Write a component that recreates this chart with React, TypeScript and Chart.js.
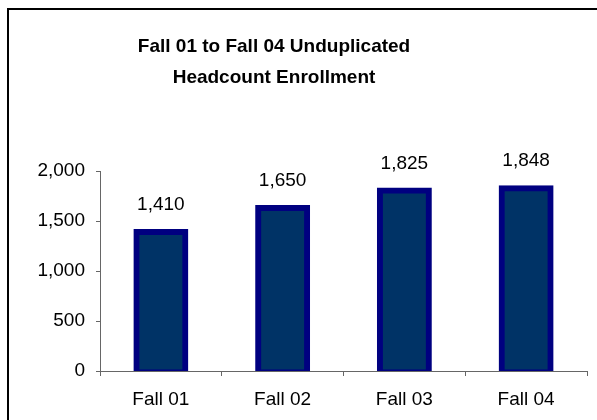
import React, { useEffect, useRef } from "react";
import { Chart, registerables } from "chart.js";

Chart.register(...registerables);

const categories = ["Fall 01", "Fall 02", "Fall 03", "Fall 04"];
const headcount = [1410, 1650, 1825, 1848];
const titleLines = ["Fall 01 to Fall 04 Unduplicated", "Headcount Enrollment"];
const yTicks = [0, 500, 1000, 1500, 2000];

const FONT = "'Liberation Sans', Arial, sans-serif";

const framePlugin = {
  id: "frame",
  beforeDraw(chart: any) {
    const { ctx } = chart;
    ctx.save();
    ctx.fillStyle = "#ffffff";
    ctx.fillRect(0, 0, chart.width, chart.height);
    ctx.strokeStyle = "#000000";
    ctx.lineWidth = 2;
    ctx.beginPath();
    ctx.moveTo(8, 440);
    ctx.lineTo(8, 9);
    ctx.lineTo(620, 9);
    ctx.stroke();
    ctx.fillStyle = "#000000";
    ctx.font = `bold 19px ${FONT}`;
    ctx.textAlign = "center";
    ctx.textBaseline = "middle";
    ctx.fillText(titleLines[0], 274, 47);
    ctx.fillText(titleLines[1], 274, 78);
    ctx.restore();
  },
};

const labelPlugin = {
  id: "barLabels",
  afterDatasetsDraw(chart: any) {
    const { ctx } = chart;
    const meta = chart.getDatasetMeta(0);
    ctx.save();
    ctx.fillStyle = "#000000";
    ctx.font = `19px ${FONT}`;
    ctx.textAlign = "center";
    ctx.textBaseline = "middle";
    meta.data.forEach((bar: any, i: number) => {
      ctx.fillText(headcount[i].toLocaleString("en-US"), bar.x, bar.y - 25);
    });
    ctx.restore();
  },
};

export default function App() {
  const ref = useRef<HTMLCanvasElement>(null);
  useEffect(() => {
    if (!ref.current) return;
    const chart = new Chart(ref.current, {
      type: "bar",
      data: {
        labels: categories,
        datasets: [
          {
            data: headcount,
            backgroundColor: "#003366",
            borderColor: "#000080",
            borderWidth: { top: 6, left: 6, right: 6, bottom: 2 },
            borderRadius: 0,
            borderSkipped: false,
            inflateAmount: 1,
            barPercentage: 0.435,
            categoryPercentage: 1,
          },
        ],
      },
      options: {
        animation: false,
        responsive: false,
        devicePixelRatio: 1,
        layout: { padding: { left: 0, right: 10, top: 171, bottom: 0 } },
        plugins: { legend: { display: false }, title: { display: false }, tooltip: { enabled: false } },
        scales: {
          x: {
            grid: { display: true, drawOnChartArea: false, drawTicks: true, tickLength: 5, color: "#666666" },
            border: { display: true, color: "#666666", width: 1 },
            ticks: { color: "#000000", font: { family: FONT, size: 19 }, padding: 12 },
            afterFit(scale: any) {
              scale.height = 49;
            },
          },
          y: {
            min: 0,
            max: 2000,
            afterBuildTicks(scale: any) {
              scale.ticks = yTicks.map((v) => ({ value: v }));
            },
            grid: { display: true, drawOnChartArea: false, drawTicks: true, tickLength: 4, color: "#666666" },
            border: { display: true, color: "#666666", width: 1 },
            ticks: {
              color: "#000000",
              font: { family: FONT, size: 19 },
              padding: 11,
              callback: (v: any) => Number(v).toLocaleString("en-US"),
            },
            afterFit(scale: any) {
              scale.width = 100;
            },
          },
        },
      },
      plugins: [framePlugin, labelPlugin],
    });
    return () => chart.destroy();
  }, []);
  return (
    <div style={{ position: "fixed", left: 0, top: 0, width: 597, height: 420, background: "#fff" }}>
      <canvas ref={ref} width={597} height={420} style={{ width: 597, height: 420, display: "block" }} />
    </div>
  );
}
